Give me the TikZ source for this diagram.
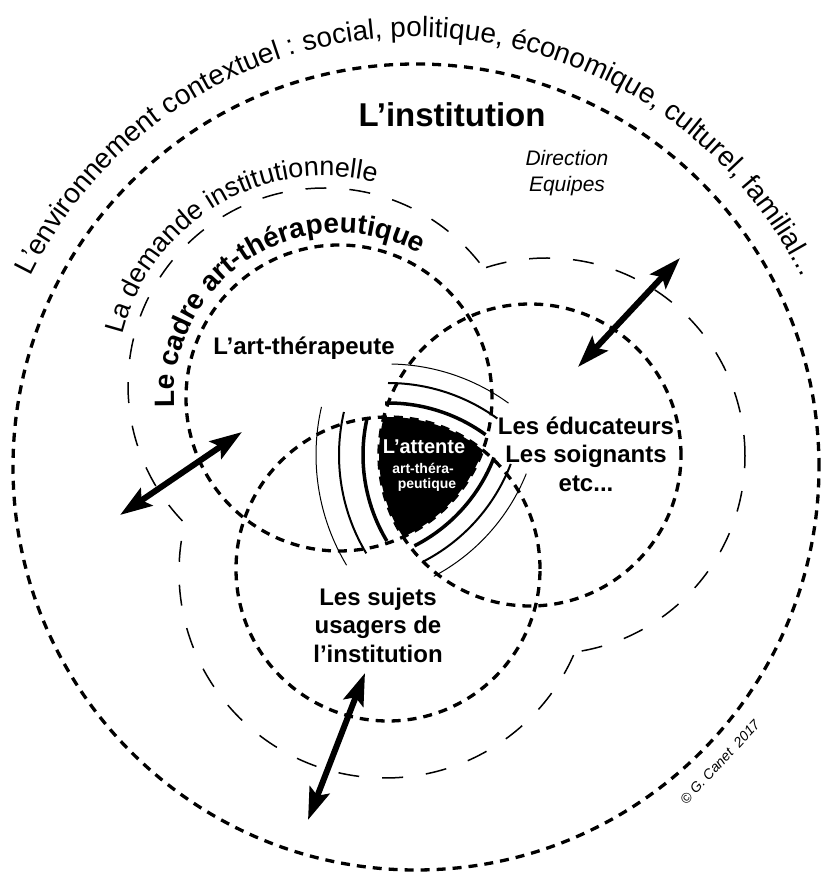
\documentclass[tikz,border=0pt]{standalone}
\usepackage{fontspec}
\setmainfont{Liberation Sans}
\usetikzlibrary{arrows.meta,decorations.text}
\newcommand\envfont{\fontsize{28}{30}\selectfont}
\newcommand\demfont{\fontsize{27}{30}\selectfont}
\newcommand\cadfont{\fontsize{28}{30}\selectfont\bfseries}
\tikzset{
  ring/.style={line width=3.3pt, dash pattern=on 9pt off 7pt},
  longdash/.style={line width=1.5pt, dash pattern=on 21pt off 23pt},
  rthick/.style={line width=3.5pt},
  rmed/.style={line width=2pt},
  rthin/.style={line width=1pt},
  dbl/.style={line width=6pt, {Stealth[length=32pt,width=21pt,inset=6pt]}-{Stealth[length=32pt,width=21pt,inset=6pt]}},
  lbl/.style={font=\fontsize{24}{28.5}\selectfont\bfseries, align=center},
  reverseclip/.style={insert path={(-60,-60) -- (-60,940) -- (880,940) -- (880,-60) -- cycle}},
}
\begin{document}
\begin{tikzpicture}[x=1pt,y=1pt]
\useasboundingbox (0,0) rectangle (821,879);
\fill[white] (0,0) rectangle (821,879);
% centres
\coordinate (O) at (416,412);
\coordinate (A) at (339,481);
\coordinate (B) at (530,424);
\coordinate (C) at (388,310);
\coordinate (DA) at (325,494);
\coordinate (DB) at (547,423);
\coordinate (DC) at (385,307);
% black core = A cap B cap C
\begin{scope}
  \clip (A) circle[radius=153];
  \clip (B) circle[radius=151];
  \fill[black] (C) circle[radius=152];
\end{scope}
% ripples
\draw[rthick] ([shift={(91:166)}]C) arc[start angle=91,end angle=54,radius=166];
\draw[rmed]   ([shift={(90:186)}]C) arc[start angle=90,end angle=54,radius=186];
\draw[rthin]  ([shift={(89:205)}]C) arc[start angle=89,end angle=54,radius=205];
\draw[rthick] ([shift={(167:167)}]B) arc[start angle=167,end angle=211,radius=167];
\draw[rmed]   ([shift={(167:191)}]B) arc[start angle=167,end angle=211,radius=191];
\draw[rthin]  ([shift={(167:214)}]B) arc[start angle=167,end angle=211,radius=214];
\draw[rthick] ([shift={(-21:166)}]A) arc[start angle=-21,end angle=-63,radius=166];
\draw[rmed]   ([shift={(-21:184)}]A) arc[start angle=-21,end angle=-63,radius=184];
\draw[rthin]  ([shift={(-22:202)}]A) arc[start angle=-22,end angle=-62,radius=202];
% dotted circles
\draw[ring] (O) circle[radius=403];
\draw[ring] (A) circle[radius=153];
\draw[ring] (B) circle[radius=151];
\draw[ring] (C) circle[radius=152];
% demande outline: union of three circles
\begin{scope}
  \clip[reverseclip] ([shift={(0:198)}]DB) arc[start angle=0,end angle=360,radius=198];
  \clip[reverseclip] ([shift={(0:206)}]DC) arc[start angle=0,end angle=360,radius=206];
  \draw[longdash] (DA) circle[radius=197];
\end{scope}
\begin{scope}
  \clip[reverseclip] ([shift={(0:197)}]DA) arc[start angle=0,end angle=360,radius=197];
  \clip[reverseclip] ([shift={(0:206)}]DC) arc[start angle=0,end angle=360,radius=206];
  \draw[longdash] (DB) circle[radius=198];
\end{scope}
\begin{scope}
  \clip[reverseclip] ([shift={(0:197)}]DA) arc[start angle=0,end angle=360,radius=197];
  \clip[reverseclip] ([shift={(0:198)}]DB) arc[start angle=0,end angle=360,radius=198];
  \draw[longdash] (DC) circle[radius=206];
\end{scope}
% arrows
\coordinate (la1) at (120,364); \coordinate (la2) at (242,447);
\coordinate (ra1) at (578,512); \coordinate (ra2) at (680,621);
\coordinate (ba1) at (308,59);  \coordinate (ba2) at (365,206);
\draw[dbl] (la1) -- (la2);
\draw[dbl] (ra1) -- (ra2);
\draw[dbl] (ba1) -- (ba2);
% curved texts
\path[decorate, decoration={text along path, text align=center,
  text={|\envfont|L’environnement contextuel : social, politique, économique, culturel, familial...}}]
  ([shift={(166:430)}]O) arc[start angle=166,end angle=14,radius=430];
\path[decorate, decoration={text along path, text align=center,
  text={|\demfont|La demande institutionnelle}}]
  ([shift={(175:209)}]DA) arc[start angle=175,end angle=67,radius=209];
\path[decorate, decoration={text along path, text align=center,
  text={|\cadfont|Le cadre art-thérapeutique}}]
  ([shift={(192:165)}]A) arc[start angle=192,end angle=52,radius=165];
% labels
\node[font=\fontsize{33}{38}\selectfont\bfseries] (inst) at (452,764) {L’institution};
\node[font=\fontsize{21}{26}\selectfont\itshape, align=center] (dir) at (567,706) {Direction\\Equipes};
\node[lbl] (ath) at (304,531) {L’art-thérapeute};
\node[lbl] (edu) at (586,425) {Les éducateurs\\Les soignants\\etc...};
\node[lbl] (suj) at (378,254) {Les sujets\\usagers de\\l’institution};
\node[font=\fontsize{20}{22}\selectfont\bfseries, text=white] (att1) at (424,432) {L’attente};
\node[font=\fontsize{14}{16}\selectfont\bfseries, text=white] (att2) at (423,411) {art-théra-};
\node[font=\fontsize{14}{16}\selectfont\bfseries, text=white] (att3) at (427,394) {peutique};
\node[font=\fontsize{14}{16}\selectfont\itshape, rotate=47] (copy) at (720,117) {© G. Canet\ \ 2017};
\end{tikzpicture}
\end{document}
